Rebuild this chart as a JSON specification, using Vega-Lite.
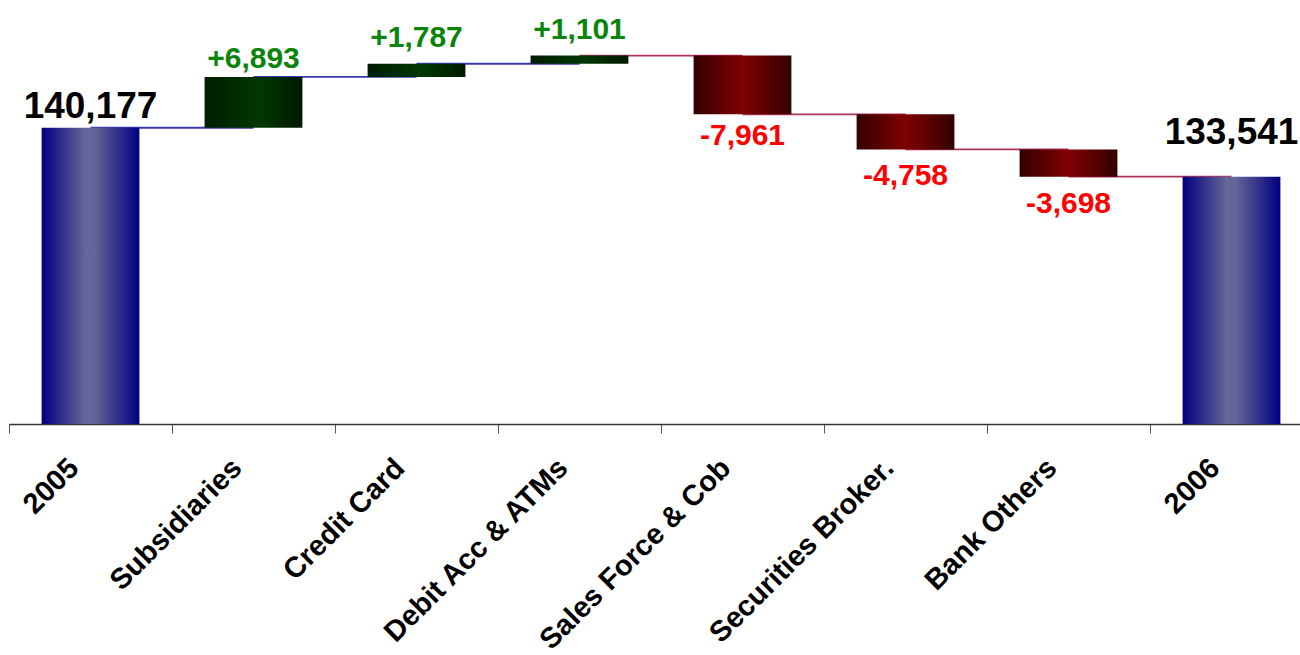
{
  "$schema": "https://vega.github.io/schema/vega-lite/v6.json",
  "width": 1291,
  "height": 424,
  "autosize": {"type": "none"},
  "padding": {"left": 9, "top": 0, "right": 0, "bottom": 231},
  "background": "white",
  "config": {
    "view": {"stroke": null},
    "font": "Liberation Sans",
    "axis": {"grid": false}
  },
  "datasets": {
    "steps": [
      {"cat": "2005", "lo": 100000, "hi": 140177, "label": "140,177", "type": "total"},
      {"cat": "Subsidiaries", "lo": 140177, "hi": 147070, "label": "+6,893", "type": "inc"},
      {"cat": "Credit Card", "lo": 147070, "hi": 148857, "label": "+1,787", "type": "inc"},
      {"cat": "Debit Acc & ATMs", "lo": 148857, "hi": 149958, "label": "+1,101", "type": "inc"},
      {"cat": "Sales Force & Cob", "lo": 141997, "hi": 149958, "label": "-7,961", "type": "dec"},
      {"cat": "Securities Broker.", "lo": 137239, "hi": 141997, "label": "-4,758", "type": "dec"},
      {"cat": "Bank Others", "lo": 133541, "hi": 137239, "label": "-3,698", "type": "dec"},
      {"cat": "2006", "lo": 100000, "hi": 133541, "label": "133,541", "type": "total2"}
    ],
    "links": [
      {"from": "2005", "to": "Subsidiaries", "level": 140177, "dir": "up"},
      {"from": "Subsidiaries", "to": "Credit Card", "level": 147070, "dir": "up"},
      {"from": "Credit Card", "to": "Debit Acc & ATMs", "level": 148857, "dir": "up"},
      {"from": "Debit Acc & ATMs", "to": "Sales Force & Cob", "level": 149958, "dir": "down"},
      {"from": "Sales Force & Cob", "to": "Securities Broker.", "level": 141997, "dir": "down"},
      {"from": "Securities Broker.", "to": "Bank Others", "level": 137239, "dir": "down"},
      {"from": "Bank Others", "to": "2006", "level": 133541, "dir": "down"}
    ]
  },
  "resolve": {"scale": {"color": "independent"}},
  "layer": [
    {
      "data": {"name": "links"},
      "mark": {"type": "rule", "strokeWidth": 1.8},
      "encoding": {
        "x": {"field": "from", "type": "nominal", "sort": null,
              "scale": {"domain": ["2005", "Subsidiaries", "Credit Card", "Debit Acc & ATMs", "Sales Force & Cob", "Securities Broker.", "Bank Others", "2006"], "range": [0, 1304], "paddingInner": 0, "paddingOuter": 0},
              "axis": {"title": null, "labelAngle": -45, "labelAlign": "right", "labelBaseline": "middle", "labelFontSize": 29, "labelFontWeight": "bold", "labelColor": "#000000", "labelFont": "Liberation Sans", "labelPadding": 30, "labelOffset": -17, "labelLimit": 0, "tickBand": "extent", "tickSize": 9, "tickColor": "#555555", "domainColor": "#333333", "domainWidth": 1.5, "labelOverlap": false}},
        "x2": {"field": "to"},
        "y": {"field": "level", "type": "quantitative", "scale": {"domain": [100000, 157500], "zero": false, "nice": false}, "axis": null},
        "color": {"field": "dir", "type": "nominal", "scale": {"domain": ["up", "down"], "range": ["#3a3aae", "#b0305c"]}, "legend": null}
      }
    },
    {
      "data": {"name": "steps"},
      "transform": [{"filter": "datum.type == 'total' || datum.type == 'total2'"}],
      "mark": {"type": "bar", "width": {"band": 0.6},
               "fill": {"gradient": "linear", "x1": 0, "y1": 0, "x2": 1, "y2": 0,
                        "stops": [{"offset": 0, "color": "#000080"}, {"offset": 0.45, "color": "#666699"}, {"offset": 0.55, "color": "#636396"}, {"offset": 1, "color": "#000080"}]}},
      "encoding": {
        "x": {"field": "cat", "type": "nominal", "sort": null},
        "y": {"field": "hi", "type": "quantitative"},
        "y2": {"field": "lo"}
      }
    },
    {
      "data": {"name": "steps"},
      "transform": [{"filter": "datum.type == 'inc'"}],
      "mark": {"type": "bar", "width": {"band": 0.6},
               "fill": {"gradient": "linear", "x1": 0, "y1": 0, "x2": 1, "y2": 0,
                        "stops": [{"offset": 0, "color": "#001c00"}, {"offset": 0.55, "color": "#003800"}, {"offset": 1, "color": "#001a00"}]}},
      "encoding": {
        "x": {"field": "cat", "type": "nominal", "sort": null},
        "y": {"field": "hi", "type": "quantitative"},
        "y2": {"field": "lo"}
      }
    },
    {
      "data": {"name": "steps"},
      "transform": [{"filter": "datum.type == 'dec'"}],
      "mark": {"type": "bar", "width": {"band": 0.6},
               "fill": {"gradient": "linear", "x1": 0, "y1": 0, "x2": 1, "y2": 0,
                        "stops": [{"offset": 0, "color": "#330000"}, {"offset": 0.5, "color": "#800000"}, {"offset": 1, "color": "#330000"}]}},
      "encoding": {
        "x": {"field": "cat", "type": "nominal", "sort": null},
        "y": {"field": "hi", "type": "quantitative"},
        "y2": {"field": "lo"}
      }
    },
    {
      "data": {"name": "steps"},
      "transform": [{"filter": "datum.type == 'total'"}],
      "mark": {"type": "text", "baseline": "alphabetic", "dy": -10, "fontSize": 37, "fontWeight": "bold", "color": "#000000", "font": "Liberation Sans"},
      "encoding": {
        "x": {"field": "cat", "type": "nominal", "sort": null},
        "y": {"field": "hi", "type": "quantitative"},
        "text": {"field": "label"}
      }
    },
    {
      "data": {"name": "steps"},
      "transform": [{"filter": "datum.type == 'total2'"}],
      "mark": {"type": "text", "baseline": "alphabetic", "dy": -33, "fontSize": 37, "fontWeight": "bold", "color": "#000000", "font": "Liberation Sans"},
      "encoding": {
        "x": {"field": "cat", "type": "nominal", "sort": null},
        "y": {"field": "hi", "type": "quantitative"},
        "text": {"field": "label"}
      }
    },
    {
      "data": {"name": "steps"},
      "transform": [{"filter": "datum.type == 'inc' && datum.hi - datum.lo > 3000"}],
      "mark": {"type": "text", "baseline": "alphabetic", "dy": -9, "fontSize": 30, "fontWeight": "bold", "color": "#0a840a", "font": "Liberation Sans"},
      "encoding": {
        "x": {"field": "cat", "type": "nominal", "sort": null},
        "y": {"field": "hi", "type": "quantitative"},
        "text": {"field": "label"}
      }
    },
    {
      "data": {"name": "steps"},
      "transform": [{"filter": "datum.type == 'inc' && datum.hi - datum.lo <= 3000"}],
      "mark": {"type": "text", "baseline": "alphabetic", "dy": -17, "fontSize": 30, "fontWeight": "bold", "color": "#0a840a", "font": "Liberation Sans"},
      "encoding": {
        "x": {"field": "cat", "type": "nominal", "sort": null},
        "y": {"field": "hi", "type": "quantitative"},
        "text": {"field": "label"}
      }
    },
    {
      "data": {"name": "steps"},
      "transform": [{"filter": "datum.type == 'dec' && datum.hi - datum.lo > 6000"}],
      "mark": {"type": "text", "baseline": "top", "dy": 7, "fontSize": 30, "fontWeight": "bold", "color": "#ff0000", "font": "Liberation Sans"},
      "encoding": {
        "x": {"field": "cat", "type": "nominal", "sort": null},
        "y": {"field": "lo", "type": "quantitative"},
        "text": {"field": "label"}
      }
    },
    {
      "data": {"name": "steps"},
      "transform": [{"filter": "datum.type == 'dec' && datum.hi - datum.lo <= 6000"}],
      "mark": {"type": "text", "baseline": "top", "dy": 12, "fontSize": 30, "fontWeight": "bold", "color": "#ff0000", "font": "Liberation Sans"},
      "encoding": {
        "x": {"field": "cat", "type": "nominal", "sort": null},
        "y": {"field": "lo", "type": "quantitative"},
        "text": {"field": "label"}
      }
    }
  ]
}
